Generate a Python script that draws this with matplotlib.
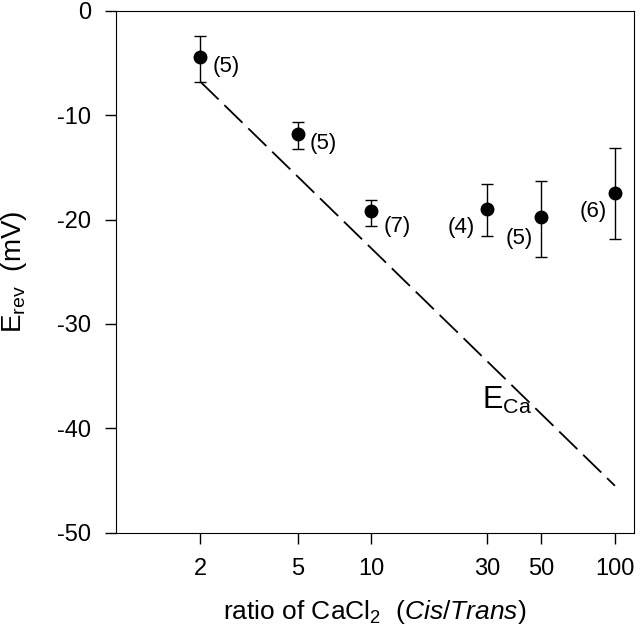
import numpy as np
import matplotlib
matplotlib.use("Agg")
import matplotlib.pyplot as plt

plt.rcParams['font.family'] = ['Liberation Sans', 'DejaVu Sans']
plt.rcParams['mathtext.fontset'] = 'custom'
plt.rcParams['mathtext.rm'] = 'Liberation Sans'
plt.rcParams['mathtext.it'] = 'Liberation Sans:italic'
plt.rcParams['axes.unicode_minus'] = False

# data
ratio = [2, 5, 10, 30, 50, 100]
erev = [-4.4, -11.8, -19.2, -19.0, -19.8, -17.5]
err_top = [-2.4, -10.7, -18.1, -16.6, -16.3, -13.1]
err_bot = [-6.8, -13.2, -20.6, -21.6, -23.6, -21.9]
n_labels = ['(5)', '(5)', '(7)', '(4)', '(5)', '(6)']

eca_ratio = [2, 100]
eca_mv = [-6.8, -45.5]

xticks = [2, 5, 10, 30, 50, 100]

fig = plt.figure(figsize=(6.4, 6.35), dpi=100)
ax = fig.add_axes([0.181, 0.161, 0.810, 0.822])

# E_Ca line
ax.plot(eca_ratio, eca_mv, color='black', lw=1.3, dashes=(14, 4.5))

lower = np.array(erev) - np.array(err_bot)
upper = np.array(err_top) - np.array(erev)
ax.errorbar(ratio, erev, yerr=[lower, upper], fmt='o', color='black',
            ms=9, elinewidth=1, capsize=4, capthick=1)

# sample-size labels
offsets = [(9, -7), (9, -7), (9, -11), (-9, -13), (-6, -15), (-6, -13)]
for x, y, lab, (dx, dy) in zip(ratio, erev, n_labels, offsets):
    ha = 'left' if dx > 0 else 'right'
    ax.annotate(lab, (x, y), xytext=(dx, dy), textcoords='offset points',
                ha=ha, va='center', fontsize=16)

ax.text(28.4, -38.1, r'$\mathrm{E_{Ca}}$', fontsize=22, ha='left', va='baseline')

ax.set_xscale('log')
ax.set_xlim(0.9, 120)
ax.set_ylim(-50, 0)
ax.set_xticks(xticks)
ax.set_xticklabels([str(t) for t in xticks])
ax.xaxis.set_minor_locator(matplotlib.ticker.NullLocator())
ax.set_yticks([0, -10, -20, -30, -40, -50])
ax.tick_params(direction='out', length=8, width=1, labelsize=17, pad=10)

ax.set_xlabel(r'ratio of CaCl$_\mathrm{2}$  ($\mathit{Cis/Trans}$)', fontsize=19, labelpad=13)
ax.set_ylabel(r'E$_\mathrm{rev}$  (mV)', fontsize=20, labelpad=20)

fig.savefig('out.png', dpi=100)
